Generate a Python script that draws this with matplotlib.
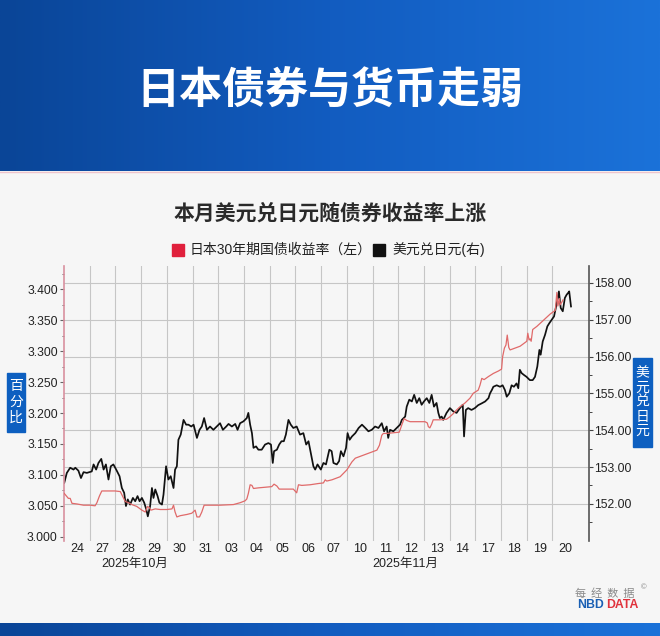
import numpy as np
import matplotlib
matplotlib.use('Agg')
import matplotlib.pyplot as plt
from matplotlib.patches import Rectangle
from matplotlib.lines import Line2D
from matplotlib.colors import LinearSegmentedColormap
from matplotlib.ticker import FixedLocator, FixedFormatter, NullFormatter, FormatStrFormatter

plt.rcParams['font.family'] = ['Liberation Sans', 'Noto Sans CJK SC', 'DejaVu Sans']

# ---------------- data ----------------
main_title = '日本债券与货币走弱'
chart_title = '本月美元兑日元随债券收益率上涨'
legend_labels = ['日本30年期国债收益率（左）', '美元兑日元(右)']
days = ['24', '27', '28', '29', '30', '31', '03', '04', '05', '06',
        '07', '10', '11', '12', '13', '14', '17', '18', '19', '20']
months = ['2025年10月', '2025年11月']
left_ticks = [3.000, 3.050, 3.100, 3.150, 3.200, 3.250, 3.300, 3.350, 3.400]
right_ticks = [152, 153, 154, 155, 156, 157, 158]

# USD/JPY (right axis), x = trading-day position
usdjpy_t = [0.01,0.11,0.24,0.37,0.44,0.56,0.66,0.76,0.89,1.08,
            1.15,1.25,1.34,1.45,1.54,1.63,1.73,1.82,1.92,2.03,
            2.16,2.25,2.34,2.41,2.48,2.57,2.68,2.77,2.86,2.94,
            3.03,3.12,3.20,3.26,3.35,3.42,3.48,3.55,3.64,3.71,
            3.81,3.87,3.97,4.06,4.15,4.26,4.32,4.39,4.45,4.54,
            4.65,4.75,4.84,4.95,5.04,5.17,5.27,5.36,5.45,5.56,
            5.68,5.81,5.94,6.07,6.18,6.31,6.40,6.53,6.66,6.75,
            6.85,6.98,7.11,7.17,7.24,7.31,7.37,7.47,7.56,7.69,
            7.82,7.95,8.05,8.12,8.17,8.28,8.37,8.46,8.55,8.63,
            8.73,8.82,8.92,9.05,9.18,9.31,9.42,9.51,9.60,9.70,
            9.77,9.86,9.99,10.09,10.19,10.32,10.41,10.48,10.61,10.70,
            10.77,10.87,10.97,11.03,11.11,11.20,11.33,11.46,11.59,11.72,
            11.84,11.97,12.10,12.23,12.36,12.45,12.55,12.61,12.68,12.81,
            12.94,13.07,13.14,13.27,13.33,13.43,13.53,13.62,13.72,13.82,
            13.91,14.00,14.11,14.21,14.30,14.39,14.49,14.56,14.62,14.69,
            14.75,14.88,15.01,15.14,15.27,15.40,15.51,15.56,15.63,15.72,
            15.85,15.98,16.11,16.25,16.38,16.51,16.57,16.64,16.70,16.83,
            16.96,17.06,17.15,17.22,17.32,17.41,17.50,17.60,17.67,17.73,
            17.80,17.89,17.99,18.12,18.23,18.32,18.41,18.49,18.54,18.62,
            18.71,18.80,18.88,18.97,19.06,19.14,19.19,19.25,19.32,19.40,
            19.48,19.55,19.61,19.65,19.72]
usdjpy = [152.57,152.84,152.98,152.93,152.98,152.90,152.70,152.86,152.84,152.88,
          153.07,152.93,153.11,153.22,152.93,153.07,152.66,153.02,153.07,152.93,
          152.75,152.43,152.30,151.94,152.12,151.98,152.16,152.07,152.21,152.07,
          152.16,152.03,151.85,151.66,151.94,152.43,152.16,152.39,152.21,152.03,
          151.98,152.25,153.02,152.66,152.75,152.43,152.93,153.02,153.74,153.88,
          154.28,154.15,154.15,154.10,154.15,153.79,154.01,154.10,154.33,154.01,
          154.10,154.01,154.10,154.19,154.01,154.10,154.17,154.10,154.17,154.01,
          154.19,154.24,154.33,154.47,154.15,153.92,153.52,153.56,153.47,153.47,
          153.61,153.65,153.61,153.11,153.43,153.47,153.61,153.70,153.70,153.88,
          154.28,154.15,154.06,154.10,153.88,153.92,153.61,153.70,153.38,153.02,
          152.93,153.07,152.93,153.11,153.07,153.47,153.43,153.11,153.07,153.16,
          153.43,153.29,153.52,153.92,153.74,153.83,153.92,154.06,154.15,154.06,
          153.97,154.01,154.10,154.06,154.19,153.97,154.10,153.79,154.01,153.97,
          154.06,154.15,154.28,154.37,154.64,154.83,154.78,154.96,154.74,154.87,
          154.69,154.78,154.87,154.74,154.96,154.64,154.74,154.47,154.33,154.37,
          154.28,154.47,154.60,154.51,154.47,154.60,154.69,153.83,154.55,154.60,
          154.55,154.60,154.68,154.73,154.78,154.87,155.00,155.09,155.18,155.22,
          155.18,155.22,155.09,154.91,155.00,155.22,155.18,155.27,155.14,155.64,
          155.55,155.50,155.45,155.36,155.36,155.45,155.73,156.18,156.05,156.41,
          156.59,156.82,156.91,157.00,157.09,157.36,157.55,157.77,157.32,157.23,
          157.59,157.68,157.73,157.77,157.36]

# JGB 30Y yield (left axis)
jgb_t = [0.01,0.09,0.17,0.24,0.31,0.50,0.76,1.02,1.21,1.28,
         1.38,1.47,1.67,1.99,2.19,2.25,2.38,2.51,2.64,2.83,
         3.03,3.16,3.25,3.32,3.38,3.55,3.74,4.00,4.20,4.26,
         4.32,4.39,4.52,4.78,4.97,5.10,5.17,5.27,5.36,5.45,
         5.68,6.07,6.59,6.85,7.04,7.11,7.17,7.24,7.31,7.37,
         7.56,7.82,8.08,8.17,8.28,8.37,8.59,8.92,9.05,9.12,
         9.25,9.57,9.89,10.09,10.16,10.22,10.42,10.74,11.00,11.20,
         11.33,11.46,11.65,11.91,12.17,12.27,12.36,12.42,12.55,12.81,
         13.04,13.14,13.23,13.33,13.46,13.72,14.04,14.13,14.17,14.23,
         14.30,14.36,14.62,14.88,15.01,15.14,15.27,15.40,15.59,15.79,
         15.92,16.11,16.18,16.25,16.34,16.51,16.70,16.90,17.02,17.06,
         17.13,17.19,17.24,17.30,17.35,17.55,17.74,18.00,18.04,18.09,
         18.13,18.17,18.23,18.39,18.65,18.91,19.11,19.17,19.21,19.27,
         19.30,19.36,19.41]
jgb = [3.070,3.066,3.062,3.062,3.054,3.053,3.051,3.051,3.050,3.055,
       3.066,3.074,3.074,3.074,3.073,3.068,3.057,3.055,3.052,3.049,
       3.043,3.040,3.049,3.047,3.043,3.045,3.044,3.044,3.045,3.051,
       3.040,3.032,3.034,3.036,3.038,3.043,3.032,3.032,3.040,3.051,
       3.051,3.051,3.052,3.055,3.058,3.061,3.070,3.084,3.083,3.078,
       3.079,3.080,3.081,3.085,3.082,3.077,3.077,3.077,3.071,3.084,
       3.083,3.084,3.086,3.087,3.092,3.090,3.092,3.097,3.108,3.121,
       3.127,3.129,3.132,3.136,3.140,3.148,3.164,3.167,3.167,3.168,
       3.169,3.181,3.191,3.188,3.186,3.186,3.186,3.184,3.178,3.176,
       3.182,3.189,3.189,3.190,3.194,3.199,3.205,3.210,3.216,3.224,
       3.232,3.237,3.245,3.256,3.254,3.259,3.264,3.268,3.271,3.291,
       3.305,3.310,3.326,3.306,3.302,3.305,3.308,3.316,3.329,3.318,
       3.320,3.316,3.335,3.340,3.350,3.360,3.366,3.395,3.373,3.385,
       3.375,3.379,3.383]

# ---------------- figure ----------------
W, H = 660, 636
fig = plt.figure(figsize=(W / 100, H / 100), dpi=100)
BG = '#f6f6f6'
fig.patch.set_facecolor(BG)

def fx(px):
    return px / W

def fy(py):
    return 1 - py / H

blue_cmap = LinearSegmentedColormap.from_list('hdr', ['#0a4597', '#125cc0', '#1b72d9'])
grad = np.linspace(0, 1, 256).reshape(1, -1)

hdr = fig.add_axes([0, fy(171), 1, 171 / H])
hdr.imshow(grad, aspect='auto', cmap=blue_cmap, extent=[0, 1, 0, 1])
hdr.axis('off')
fig.add_artist(Line2D([0, 1], [fy(171.5)] * 2, color='#efc4cc', lw=1.0))

ftr = fig.add_axes([0, 0, 1, 13 / H])
ftr.imshow(grad, aspect='auto', cmap=blue_cmap, extent=[0, 1, 0, 1])
ftr.axis('off')

fig.text(0.5, fy(90), main_title, color='white', fontsize=31, fontweight=900,
         ha='center', va='center', family=['Noto Sans CJK SC', 'DejaVu Sans'])
fig.text(0.5, fy(213), chart_title, color='#2a2a2a', fontsize=15, fontweight='bold',
         ha='center', va='center', family=['Noto Sans CJK SC', 'DejaVu Sans'])

# legend
fig.add_artist(Rectangle((fx(172), fy(256)), fx(12), 12 / H, transform=fig.transFigure,
                         color='#e0203c'))
fig.text(fx(190), fy(250), legend_labels[0], fontsize=10, color='#222', ha='left', va='center')
fig.add_artist(Rectangle((fx(373), fy(256)), fx(12), 12 / H, transform=fig.transFigure,
                         color='#111111'))
fig.text(fx(392), fy(250), legend_labels[1], fontsize=10, color='#222', ha='left', va='center')

# ---------------- axes ----------------
pos = [fx(64), fy(541), fx(589) - fx(64), (541 - 266) / H]
ax = fig.add_axes(pos)
ax.set_facecolor(BG)
ax.plot(usdjpy_t, usdjpy, color='#111111', lw=1.25, zorder=3)
ax.set_xlim(0, 20.42)
ax.set_ylim(150.99, 158.46)
ax.yaxis.tick_right()
ax.yaxis.set_major_locator(FixedLocator(right_ticks))
ax.yaxis.set_major_formatter(FormatStrFormatter('%.2f'))
ax.yaxis.set_minor_locator(FixedLocator([v + 0.5 for v in [151] + right_ticks]))
ax.tick_params(axis='y', which='major', length=3, width=0.8, color='#444', pad=1,
               labelsize=8.7, labelcolor='#222')
ax.tick_params(axis='y', which='minor', length=1.8, width=0.7, color='#444')

ax.xaxis.set_major_locator(FixedLocator(list(range(1, len(days)))))
ax.xaxis.set_major_formatter(NullFormatter())
ax.xaxis.set_minor_locator(FixedLocator([i + 0.5 for i in range(len(days))]))
ax.xaxis.set_minor_formatter(FixedFormatter(days))
ax.tick_params(axis='x', which='both', length=0)
ax.tick_params(axis='x', which='minor', labelsize=9, pad=1.5, labelcolor='#222')
ax.grid(True, which='major', color='#c6c6c6', lw=0.8)
ax.set_axisbelow(True)
for s in ['top', 'bottom', 'left']:
    ax.spines[s].set_visible(False)
ax.spines['right'].set_color('#555555')
ax.spines['right'].set_linewidth(1.2)

axl = fig.add_axes(pos, sharex=ax)
axl.patch.set_visible(False)
axl.plot(jgb_t, jgb, color='#e06a6a', lw=0.9, zorder=3)
axl.set_ylim(2.9931, 3.4377)
axl.yaxis.set_major_locator(FixedLocator(left_ticks))
axl.yaxis.set_major_formatter(FormatStrFormatter('%.3f'))
axl.yaxis.set_minor_locator(FixedLocator([v + 0.025 for v in left_ticks]))
axl.tick_params(axis='y', which='major', length=3, width=0.8, color='#666', pad=1.5,
                labelsize=8.7, labelcolor='#222')
axl.tick_params(axis='y', which='minor', length=1.8, width=0.7, color='#666')
axl.xaxis.set_visible(False)
for s in ['top', 'bottom', 'right']:
    axl.spines[s].set_visible(False)
axl.spines['left'].set_color('#d9909f')
axl.spines['left'].set_linewidth(1.2)

# month labels
fig.text(fx(135), fy(564), months[0], fontsize=9, color='#222', ha='center', va='center')
fig.text(fx(405), fy(564), months[1], fontsize=9, color='#222', ha='center', va='center')

# axis unit boxes
BOX = '#0d5fc0'
fig.add_artist(Rectangle((fx(7), fy(432)), fx(18), 59 / H, transform=fig.transFigure, color=BOX))
fig.text(fx(16), fy(402), '百\n分\n比', color='white', fontsize=10, ha='center', va='center',
         linespacing=1.15, family=['Noto Sans CJK SC', 'DejaVu Sans'])
fig.add_artist(Rectangle((fx(633), fy(447)), fx(19), 89 / H, transform=fig.transFigure, color=BOX))
fig.text(fx(642.5), fy(402), '美\n元\n兑\n日\n元', color='white', fontsize=10, ha='center',
         va='center', linespacing=1.05, family=['Noto Sans CJK SC', 'DejaVu Sans'])

# logo
fig.text(fx(575), fy(594), '每  经  数  据', fontsize=8, color='#8a8a8a', ha='left', va='center',
         family=['Noto Sans CJK SC', 'DejaVu Sans'])
fig.text(fx(641), fy(588), '©', fontsize=5.5, color='#8a8a8a', ha='left', va='center')
fig.text(fx(577), fy(605), 'NBD', fontsize=8.8, fontweight='bold', color='#1a5fb4',
         ha='left', va='center')
fig.text(fx(606), fy(605), 'DATA', fontsize=8.8, fontweight='bold', color='#e0323c',
         ha='left', va='center')

fig.savefig('out.png', dpi=100, facecolor=BG)
